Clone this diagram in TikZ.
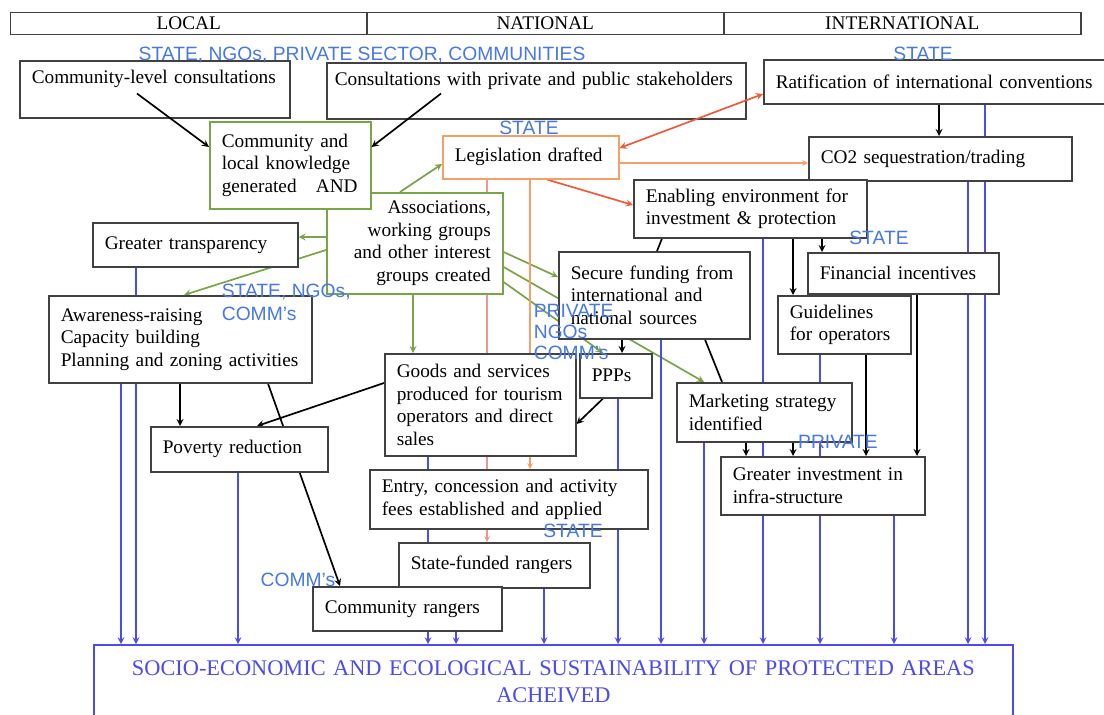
\documentclass[tikz,border=0pt]{standalone}
\usepackage{fontspec}
\setmainfont{Liberation Serif}
\newfontfamily\actorfont{Liberation Sans}
\usepackage{tikz}
\usetikzlibrary{calc,backgrounds}

\definecolor{boxgrey}{RGB}{65,65,65}
\definecolor{leafgreen}{RGB}{120,165,70}
\definecolor{laworange}{RGB}{245,160,100}
\definecolor{lawred}{RGB}{240,90,55}
\definecolor{lawpink}{RGB}{240,150,145}
\definecolor{flowblue}{RGB}{75,75,240}
\definecolor{actorblue}{RGB}{70,120,232}

\begin{document}
\begin{tikzpicture}[->,>=stealth,very thick,x=0.025cm,y=-0.025cm]
  \tikzstyle{level}=[draw=boxgrey,line width=1pt,anchor=north west,minimum height=0.55cm,inner sep=0pt,font=\fontsize{13.7}{16}\selectfont]
  \tikzstyle{box}=[draw=boxgrey,line width=1.1pt,fill=white,anchor=north west,align=left,inner xsep=0.3cm,inner ysep=0.1cm,font=\fontsize{13.7}{16}\selectfont]
  \tikzstyle{greenbox}=[box,draw=leafgreen]
  \tikzstyle{lawbox}=[box,draw=laworange]
  \tikzstyle{goalbox}=[box,draw=flowblue,text=flowblue,align=center,font=\fontsize{15.9}{19}\selectfont]
  \tikzstyle{actor}=[text=actorblue,inner sep=0pt,font=\actorfont\fontsize{13.7}{16}\selectfont]
  \tikzstyle{flow}=[flowblue,line width=1.1pt]

  \useasboundingbox (0,0) rectangle (1104,715);
  \clip (0,0) rectangle (1104,715);

  % levels
  \node[level,minimum width=8.9cm] (local) at (10,12) {LOCAL};
  \node[level,minimum width=8.925cm] (national) at (366,12) {NATIONAL};
  \node[level,minimum width=8.925cm] (intl) at (723,12) {INTERNATIONAL};

  % consultations
  \node[box,text width=6.15cm,minimum height=1.425cm,text depth=0.6cm] (comcons) at (19,60) {Community-level consultations};
  \node[box,inner xsep=0.2cm,text width=10.075cm,minimum height=1.4cm,text depth=0.6cm] (stakecons) at (326,62) {Consultations with private and public stakeholders};
  \node[box,text width=8.325cm,minimum height=1.1cm] (ratif) at (763,59) {Ratification of international conventions};

  \node[greenbox,text width=3.8cm,minimum height=2.525cm,align=right] (assoc) at (326,192) {Associations,\\working groups\\and other interest\\groups created};
  \node[greenbox,text width=3.425cm,minimum height=2.175cm] (knowl) at (209,121) {Community and\\local knowledge\\generated\ \ \ AND};
  \node[lawbox,text width=3.8cm,minimum height=1.075cm] (legis) at (442,135) {Legislation drafted};

  % local side
  \node[box,text width=4.525cm,minimum height=1.1cm] (transp) at (92,222) {Greater transparency};
  \node[box,text width=5.975cm,minimum height=2.175cm] (aware) at (48,295) {Awareness-raising\\Capacity building\\Planning and zoning activities};
  \node[box,text width=3.825cm,minimum height=1.125cm] (pov) at (150,426) {Poverty reduction};

  % national side
  \node[box,text width=4.175cm,minimum height=2.55cm] (goods) at (384,353) {Goods and services\\produced for tourism\\operators and direct\\sales};
  \node[box,text width=6.35cm,minimum height=1.475cm] (entry) at (369,469) {Entry, concession and activity\\fees established and applied};
  \node[box,text width=4.175cm,minimum height=1.125cm] (sfr) at (398,542) {State-funded rangers};
  \node[box,text width=4.125cm,minimum height=1.1cm] (crng) at (312,586) {Community rangers};
  \node[box,text width=4.175cm,minimum height=2.175cm] (secure) at (558,251) {Secure funding from\\international and\\national sources};
  \node[box,text width=1.2cm,minimum height=1.1cm] (ppp) at (579,353) {PPPs};

  % international side
  \node[box,text width=5.975cm,minimum height=1.1cm] (co2) at (808,136) {CO2 sequestration/trading};
  \node[box,text width=5.225cm,minimum height=1.45cm] (enab) at (633,179) {Enabling environment for\\investment \& protection};
  \node[box,text width=4.175cm,minimum height=1.025cm] (fin) at (807,252) {Financial incentives};
  \node[box,text width=2.725cm,minimum height=1.45cm] (guide) at (777,295) {Guidelines\\for operators};
  \node[box,text width=3.775cm,minimum height=1.475cm] (mkt) at (676,382) {Marketing strategy\\identified};
  \node[box,text width=4.5cm,minimum height=1.45cm] (invest) at (720,456) {Greater investment in\\infra-structure};

  \node[goalbox,text width=22.375cm,minimum height=1.85cm] (goal) at (93,644) {SOCIO-ECONOMIC AND ECOLOGICAL SUSTAINABILITY OF PROTECTED AREAS\\ACHEIVED};

  \begin{scope}[on background layer={very thick}]
    % green links
    \draw[leafgreen] (assoc.north -| 400,0) -- (legis.west |- 0,164);
    \draw[leafgreen] (assoc.west |- 0,237) -- (transp.east |- 0,237);
    \draw[leafgreen] (assoc.west |- 0,250) -- (aware.north -| 184,0);
    \draw[leafgreen] (assoc.south -| 413,0) -- (goods.north -| 413,0);
    \draw[leafgreen] (assoc.east |- 0,252) -- (secure.west |- 0,277);
    \draw[leafgreen] (assoc.east |- 0,267) -- (mkt.north -| 704,0);
    \draw[leafgreen] (assoc.east |- 0,282) -- (ppp.north -| 603,0);

    % legislation links
    \draw[laworange,thick] (legis.east |- 0,163) -- (co2.west |- 0,163);
    \draw[lawred] (legis.south -| 547,0) -- (enab.west |- 0,205);
    \draw[laworange,thick] (legis.south -| 530,0) -- (entry.north -| 530,0);
    \draw[lawpink,thick] (legis.south -| 487,0) -- (sfr.north -| 487,0);

    % black links
    \draw (ratif.south -| 939,0) -- (co2.north -| 939,0);
    \draw (aware.south -| 180,0) -- (pov.north -| 180,0);
    \draw (goods.west |- 0,383) -- (pov.north -| 257,0);
    \draw (aware.south -| 268,0) -- (crng.north -| 340,0);
    \draw[-] (enab.south -| 662,0) -- (secure.north -| 657,0);
    \draw[-] (secure.south -| 705,0) -- (mkt.north -| 722,0);
    \draw (secure.south -| 622,0) -- (ppp.north -| 622,0);
    \draw (ppp.south -| 603,0) -- (goods.east |- 0,424);
    \draw (enab.south -| 793,0) -- (guide.north -| 793,0);
    \draw (enab.south -| 822,0) -- (fin.north -| 822,0);
    \draw (mkt.south -| 746,0) -- (invest.north -| 746,0);
    \draw (mkt.south -| 793,0) -- (invest.north -| 793,0);
    \draw (guide.south -| 866,0) -- (invest.north -| 866,0);
    \draw (fin.south -| 917,0) -- (invest.north -| 917,0);

    % everything feeds the goal
    \draw[flow] (aware.south -| 121,0) -- (goal.north -| 121,0);
    \draw[flow] (transp.south -| 136,0) -- (goal.north -| 136,0);
    \draw[flow] (pov.south -| 238,0) -- (goal.north -| 238,0);
    \draw[flow] (goods.south -| 428,0) -- (goal.north -| 428,0);
    \draw[flow] (crng.south -| 456,0) -- (goal.north -| 456,0);
    \draw[flow] (sfr.south -| 544,0) -- (goal.north -| 544,0);
    \draw[flow] (ppp.south -| 618,0) -- (goal.north -| 618,0);
    \draw[flow] (secure.south -| 661,0) -- (goal.north -| 661,0);
    \draw[flow] (mkt.south -| 704,0) -- (goal.north -| 704,0);
    \draw[flow] (enab.south -| 763,0) -- (goal.north -| 763,0);
    \draw[flow] (guide.south -| 820,0) -- (goal.north -| 820,0);
    \draw[flow] (invest.south -| 894,0) -- (goal.north -| 894,0);
    \draw[flow] (co2.south -| 968,0) -- (goal.north -| 968,0);
    \draw[flow] (ratif.south -| 985,0) -- (goal.north -| 985,0);
  \end{scope}

  \draw ($(comcons.south west)+(118,-25)$) -- (knowl.west |- 0,147);
  \draw ($(stakecons.south west)+(115,-26)$) -- (knowl.east |- 0,147);
  \draw[lawred,<->] (legis.east |- 0,148) -- (ratif.west |- 0,94);

  % actors
  \node[actor] (allactors) at (362,55) {STATE, NGOs, PRIVATE SECTOR, COMMUNITIES};
  \node[actor] (intlstate) at (923,54) {STATE};
  \node[actor] (legstate) at (529,128) {STATE};
  \node[actor,anchor=west] (localact) at (221,292) {STATE, NGOs,};
  \node[actor,anchor=west] (localcomm) at (221,314) {COMM’s};
  \node[actor,anchor=west] (pppprivate) at (533,311) {PRIVATE};
  \node[actor,anchor=west] (pppngos) at (533,332) {NGOs};
  \node[actor,anchor=west] (pppcomm) at (533,353) {COMM’s};
  \node[actor] (feestate) at (573,531) {STATE};
  \node[actor] (finstate) at (879,238) {STATE};
  \node[actor] (invprivate) at (838,442) {PRIVATE};
  \node[actor] (rangercomm) at (298,580) {COMM’s};
\end{tikzpicture}
\end{document}
